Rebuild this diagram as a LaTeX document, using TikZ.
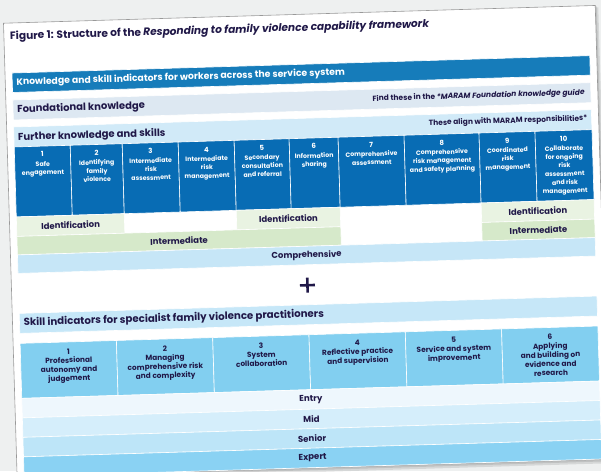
\documentclass[tikz,border=0pt]{standalone}
\usepackage{fontspec}
\setmainfont{Poppins}
\definecolor{navy}{RGB}{32,24,72}
\definecolor{hdrblue}{RGB}{22,124,186}
\definecolor{cellblue}{RGB}{8,108,180}
\definecolor{foundc}{RGB}{221,232,242}
\definecolor{furtherc}{RGB}{209,234,248}
\definecolor{compc}{RGB}{198,230,247}
\definecolor{idgreen}{RGB}{233,243,226}
\definecolor{intgreen}{RGB}{214,233,202}
\definecolor{skillband}{RGB}{198,231,248}
\definecolor{skyblue}{RGB}{130,207,240}
\definecolor{entryc}{RGB}{238,247,253}
\definecolor{midc}{RGB}{213,238,251}
\definecolor{seniorc}{RGB}{189,229,248}
\definecolor{expertc}{RGB}{138,210,243}
\definecolor{bgc}{RGB}{238,240,240}
\begin{document}
\begin{tikzpicture}[x=1pt,y=-1pt,
  box/.style={rectangle, anchor=north west, inner sep=0pt, outer sep=0pt, draw=white, line width=0.6pt},
  lbl/.style={text=navy, font=\bfseries\fontsize{10}{12}\selectfont, inner sep=0pt, anchor=west},
  note/.style={text=navy, font=\bfseries\fontsize{7.5}{9}\selectfont, inner sep=0pt, anchor=east},
  rowtxt/.style={text=navy, font=\bfseries\fontsize{8.5}{10}\selectfont, inner sep=0pt},
  celltxt/.style={text=white, font=\bfseries\fontsize{6.3}{8.5}\selectfont, align=center, inner sep=0pt, anchor=north},
  skilltxt/.style={text=navy, font=\bfseries\fontsize{7.4}{9}\selectfont, align=center, inner sep=0pt, anchor=north}]
\fill[bgc] (0,0) rectangle (601,471);
\useasboundingbox (0,0) rectangle (601,471);
\begin{scope}[shift={(12,73)}, rotate=1.72, transform shape]
  % page with shadow
  \fill[black, opacity=0.10] (-5,-48) rectangle (588,408);
  \fill[black, opacity=0.10] (-6,-49) rectangle (586.5,406);
  \node[box, draw=black!40, fill=white, line width=0.6pt, minimum width=592pt, minimum height=454pt] (page) at (-7,-50) {};
  % title
  \node[anchor=west, inner sep=0pt, text=navy, font=\bfseries\fontsize{10.6}{12}\selectfont] (title) at (-1,-36)
    {Figure 1: Structure of the \textit{Responding to family violence capability framework}};
  % header
  \node[box, fill=hdrblue, minimum width=578pt, minimum height=19.5pt] (hdr) at (0,0) {};
  \node[lbl, text=white, font=\bfseries\fontsize{9.3}{11}\selectfont] (hdrtxt) at ([xshift=4pt]hdr.west) {Knowledge and skill indicators for workers across the service system};
  % foundational
  \node[box, fill=foundc, minimum width=578pt, minimum height=20pt] (found) at (0,27) {};
  \node[lbl] (foundtxt) at ([xshift=4pt]found.west) {Foundational knowledge};
  \node[note] (foundnote) at ([xshift=-6pt]found.east) {Find these in the \textit{*MARAM Foundation knowledge guide}};
  % further
  \node[box, fill=furtherc, minimum width=578pt, minimum height=20pt] (fur) at (0,54) {};
  \node[lbl] (furtxt) at ([xshift=4pt,yshift=-1pt]fur.west) {Further knowledge and skills};
  \node[note] (furnote) at ([xshift=-4pt,yshift=1pt]fur.east) {These align with MARAM responsibilities*};
  % ten capability cells
  \foreach \i/\a/\w/\t in {1/0/56/{Safe\\engagement},
      2/56/52/{Identifying\\family\\violence},
      3/108/56/{Intermediate\\risk\\assessment},
      4/164/56/{Intermediate\\risk\\management},
      5/220/55/{Secondary\\consultation\\and referral},
      6/275/49/{Information\\sharing},
      7/324/66/{Comprehensive\\assessment},
      8/390/75/{Comprehensive\\risk management\\and safety planning},
      9/465/56/{Coordinated\\risk\\management},
      10/521/57/{Collaborate\\for ongoing\\risk\\assessment\\and risk\\management}} {
    \node[box, fill=cellblue, minimum width=\w pt, minimum height=70pt] (c\i) at (\a,74) {};
    \node[celltxt] (ct\i) at ([yshift=-5.5pt]c\i.north) {{\fontsize{7}{8.5}\selectfont\i}\\[0.8pt]\t};
  }
  % identification row
  \node[box, fill=idgreen, minimum width=108pt, minimum height=19.5pt] (id1) at (0,144) {};
  \node[box, fill=idgreen, minimum width=104pt, minimum height=19.5pt] (id2) at (220,144) {};
  \node[box, fill=idgreen, minimum width=113pt, minimum height=19.5pt] (id3) at (465,144) {};
  \node[rowtxt] (id1t) at (id1.center) {Identification};
  \node[rowtxt] (id2t) at (id2.center) {Identification};
  \node[rowtxt] (id3t) at (id3.center) {Identification};
  % intermediate row
  \node[box, fill=intgreen, minimum width=324pt, minimum height=18.5pt] (in1) at (0,163.5) {};
  \node[box, fill=intgreen, minimum width=113pt, minimum height=18.5pt] (in2) at (465,163.5) {};
  \node[rowtxt] (in1t) at (in1.center) {Intermediate};
  \node[rowtxt] (in2t) at (in2.center) {Intermediate};
  % comprehensive row
  \node[box, fill=compc, minimum width=578pt, minimum height=18.5pt] (comp) at (0,182) {};
  \node[rowtxt] (compt) at (comp.center) {Comprehensive};
  % plus sign
  \coordinate (plus) at (289,221);
  \draw[navy, line width=2.6pt] ([xshift=-7.5pt]plus) -- ([xshift=7.5pt]plus);
  \draw[navy, line width=2.6pt] ([yshift=-7.5pt]plus) -- ([yshift=7.5pt]plus);
  % skill indicators band
  \node[box, fill=skillband, minimum width=578pt, minimum height=20pt] (skill) at (0,240.5) {};
  \node[lbl, font=\bfseries\fontsize{10.2}{12}\selectfont] (skilltxt) at ([xshift=4pt]skill.west) {Skill indicators for specialist family violence practitioners};
  % six skill cells
  \foreach \i/\a/\t in {1/0/{Professional\\autonomy and\\judgement},
      2/96.33/{Managing\\comprehensive risk\\and complexity},
      3/192.67/{System\\collaboration},
      4/289/{Reflective practice\\and supervision},
      5/385.33/{Service and system\\improvement},
      6/481.67/{Applying\\and building on\\evidence and\\research}} {
    \node[box, fill=skyblue, minimum width=96.33pt, minimum height=55pt] (s\i) at (\a,270.5) {};
    \node[skilltxt] (st\i) at ([yshift=-6.5pt]s\i.north) {\i\\\t};
  }
  % levels
  \foreach \n/\v/\c/\t in {entry/325.5/entryc/Entry, mid/345/midc/Mid, senior/364.5/seniorc/Senior, expert/384/expertc/Expert} {
    \node[box, fill=\c, minimum width=578pt, minimum height=19.5pt] (\n) at (0,\v) {};
    \node[rowtxt, font=\bfseries\fontsize{8.6}{10}\selectfont] (\n t) at (\n.center) {\t};
  }
\end{scope}
\end{tikzpicture}
\end{document}
